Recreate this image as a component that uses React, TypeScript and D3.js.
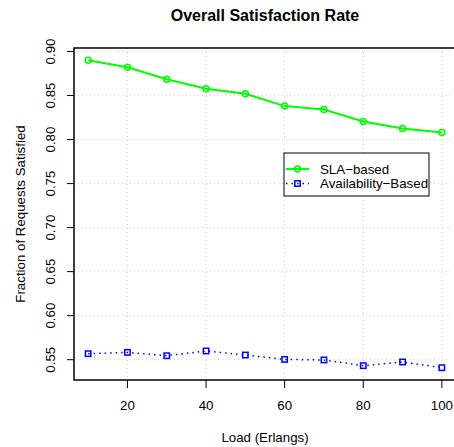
import React from "react";
import * as d3 from "d3";

const loads = [10, 20, 30, 40, 50, 60, 70, 80, 90, 100];
const slaBased = [0.890, 0.882, 0.8685, 0.8576, 0.852, 0.838, 0.834, 0.8205, 0.8125, 0.808];
const availabilityBased = [0.5568, 0.5583, 0.5545, 0.5599, 0.5553, 0.5503, 0.5497, 0.5432, 0.5474, 0.5409];
const xTicks = [20, 40, 60, 80, 100];
const yTicks = [0.55, 0.6, 0.65, 0.7, 0.75, 0.8, 0.85, 0.9];
const seriesNames = ["SLA\u2212based", "Availability\u2212Based"];

const W = 454, H = 447;
const left = 74, right = 456, top = 48, bottom = 380;
const font = "'Liberation Sans', Arial, Helvetica, sans-serif";
const fs = 13.3;

function ext(vals: number[]): [number, number] {
  const [a, b] = d3.extent(vals) as [number, number];
  const d = (b - a) * 0.04;
  return [a - d, b + d];
}

export default function App() {
  const x = d3.scaleLinear().domain(ext(loads)).range([left, right]);
  const y = d3.scaleLinear().domain(ext([...slaBased, ...availabilityBased])).range([bottom, top]);
  const line = d3.line<[number, number]>().x(d => x(d[0])).y(d => y(d[1]));
  const slaPts: [number, number][] = loads.map((l, i) => [l, slaBased[i]]);
  const avPts: [number, number][] = loads.map((l, i) => [l, availabilityBased[i]]);
  const grid = "#d3d3d3";
  const lg = { x: 284, y: 153, w: 145, h: 43 };
  return (
    <svg width={W} height={H} style={{ position: "absolute", left: 0, top: 0, background: "#fff" }} fontFamily={font}>
      <rect width={W} height={H} fill="#fff" />
      {/* grid */}
      {xTicks.map(t => (
        <line key={"gx" + t} x1={x(t)} x2={x(t)} y1={top} y2={bottom} stroke={grid} strokeDasharray="1,3" />
      ))}
      {yTicks.map(t => (
        <line key={"gy" + t} x1={left} x2={right} y1={y(t)} y2={y(t)} stroke={grid} strokeDasharray="1,3" />
      ))}
      {/* series */}
      <path d={line(slaPts) || ""} fill="none" stroke="#00ff00" strokeWidth={2} />
      {slaPts.map((p, i) => (
        <circle key={"c" + i} cx={x(p[0])} cy={y(p[1])} r={3} fill="none" stroke="#00ff00" strokeWidth={1.5} />
      ))}
      <path d={line(avPts) || ""} fill="none" stroke="#0000ff" strokeWidth={1.5} strokeDasharray="1.5,4" />
      {avPts.map((p, i) => (
        <rect key={"s" + i} x={x(p[0]) - 2.7} y={y(p[1]) - 2.7} width={5.4} height={5.4} fill="none" stroke="#0000ff" strokeWidth={1.5} />
      ))}
      {/* box (open right) */}
      <path d={`M${right},${top}H${left}V${bottom}H${right}`} fill="none" stroke="#000" strokeWidth={1.5} />
      {/* axes ticks */}
      {xTicks.map(t => (
        <g key={"xt" + t}>
          <line x1={x(t)} x2={x(t)} y1={bottom} y2={bottom + 8} stroke="#000" />
          <text x={x(t)} y={bottom + 29.5} textAnchor="middle" fontSize={fs}>{t}</text>
        </g>
      ))}
      {yTicks.map(t => (
        <g key={"yt" + t}>
          <line x1={left - 7} x2={left} y1={y(t)} y2={y(t)} stroke="#000" />
          <text transform={`translate(${left - 19},${y(t)}) rotate(-90)`} textAnchor="middle" fontSize={fs}>{t.toFixed(2)}</text>
        </g>
      ))}
      {/* labels */}
      <text x={(left + right) / 2} y={21} textAnchor="middle" fontSize={16} fontWeight="bold">Overall Satisfaction Rate</text>
      <text x={(left + right) / 2} y={442} textAnchor="middle" fontSize={fs}>Load (Erlangs)</text>
      <text transform={`translate(24.5,${(top + bottom) / 2}) rotate(-90)`} textAnchor="middle" fontSize={fs}>Fraction of Requests Satisfied</text>
      {/* legend */}
      <rect x={lg.x} y={lg.y} width={lg.w} height={lg.h} fill="#fff" stroke="#000" strokeWidth={1} />
      <line x1={lg.x + 2} x2={lg.x + 25} y1={169} y2={169} stroke="#00ff00" strokeWidth={2} />
      <circle cx={lg.x + 13.5} cy={169} r={3} fill="none" stroke="#00ff00" strokeWidth={1.5} />
      <text x={lg.x + 36} y={173.7} fontSize={fs}>{seriesNames[0]}</text>
      <line x1={lg.x + 2} x2={lg.x + 25} y1={183.5} y2={183.5} stroke="#0000ff" strokeWidth={1.5} strokeDasharray="1.5,4" />
      <rect x={lg.x + 13.5 - 2.7} y={183.5 - 2.7} width={5.4} height={5.4} fill="none" stroke="#0000ff" strokeWidth={1.5} />
      <text x={lg.x + 36} y={188.2} fontSize={fs}>{seriesNames[1]}</text>
    </svg>
  );
}
